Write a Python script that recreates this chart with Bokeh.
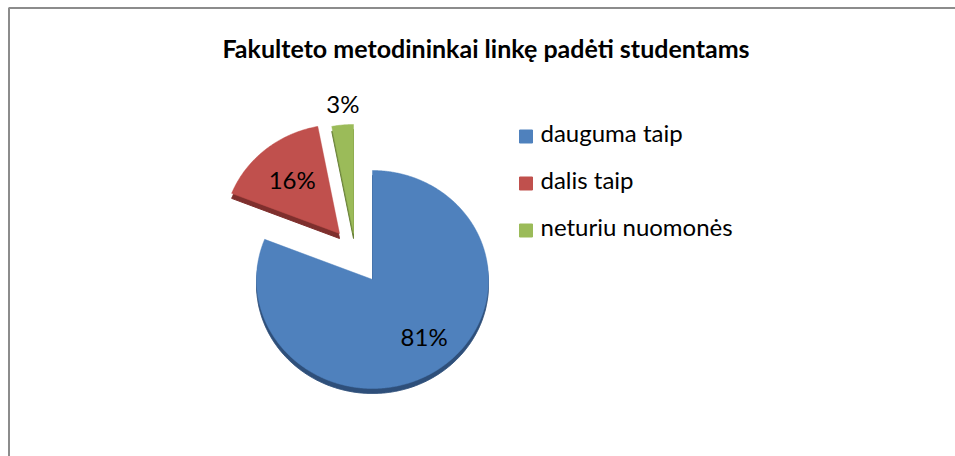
import math
from bokeh.plotting import figure
from bokeh.models import ColumnDataSource
from bokeh.core.properties import value
from bokeh.embed import file_html
from bokeh.resources import INLINE

# ---- data ----
title_text = "Fakulteto metodininkai linkę padėti studentams"
categories = ["dauguma taip", "dalis taip", "neturiu nuomonės"]
percents = [81, 16, 3]

# ---- style ----
face_colors = ["#4F81BD", "#C0504D", "#9BBB59"]
side_colors = ["#2E4F7A", "#7E2F2D", "#6A8239"]
explode_px = [(0, 0), (-33, 46), (-19, 46)]   # screen offsets (x right, y up)
label_frac = [0.69, 0.64, 1.20]
label_rot = [6, 0, -1]                         # degrees
FONT = "Lato"

W, H = 955, 456
p = figure(width=W, height=H, x_range=(0, W), y_range=(0, H),
           output_backend="svg", toolbar_location=None, min_border=0,
           outline_line_color=None, background_fill_color="white",
           border_fill_color="white")
p.axis.visible = False
p.grid.visible = False

# chart frame (left + top edges)
p.segment(x0=[8.5, 8], y0=[0, H - 7.5], x1=[8.5, W], y1=[H - 7.5, H - 7.5],
          line_color="#8C8C8C", line_width=2)

# title
p.text(x=[485.5], y=[H - 47], text=[title_text], text_font=value(FONT),
       text_font_style="bold", text_font_size="25px", text_align="center",
       text_baseline="alphabetic", text_color="black")

# pie geometry (slightly elliptical, 3D look)
cx, cy, rx, ry = 372, H - 279, 116, 109
depth = 5
total = sum(percents)
cum = 0
fx, fy, sx, sy, lx, ly = [], [], [], [], [], []
for i, v in enumerate(percents):
    a0 = 90 - cum / total * 360
    cum += v
    a1 = 90 - cum / total * 360
    dx, dy = explode_px[i]
    vx, vy = cx + dx, cy + dy
    steps = max(4, int(abs(a0 - a1) * 2))
    ts = [math.radians(a0 + (a1 - a0) * k / steps) for k in range(steps + 1)]
    px = [vx] + [vx + rx * math.cos(t) for t in ts]
    py = [vy] + [vy + ry * math.sin(t) for t in ts]
    fx.append(px)
    fy.append(py)
    sx.append(px)
    sy.append([y - depth for y in py])
    mid = math.radians((a0 + a1) / 2 + label_rot[i])
    lx.append(vx + label_frac[i] * rx * math.cos(mid))
    ly.append(vy + label_frac[i] * ry * math.sin(mid))

src = ColumnDataSource(dict(fx=fx, fy=fy, sx=sx, sy=sy,
                            face=face_colors, side=side_colors))
# 3D side (shifted darker copy)
p.patches(xs="sx", ys="sy", fill_color="side", line_color="side", source=src)
# top face
p.patches(xs="fx", ys="fy", fill_color="face", line_color="face", line_width=0.5, source=src)

lab_src = ColumnDataSource(dict(lx=lx, ly=ly, lab=[f"{v}%" for v in percents]))
p.text(x="lx", y="ly", text="lab", source=lab_src, text_font=value(FONT),
       text_font_size="24px", text_align="center", text_baseline="middle",
       text_color="black")

# legend
leg_x, leg_y0, leg_dy = 525.5, H - 136, 47
n = len(categories)
lsrc = ColumnDataSource(dict(
    x=[leg_x] * n,
    y=[leg_y0 - i * leg_dy for i in range(n)],
    ty=[leg_y0 + 4 - i * leg_dy for i in range(n)],
    tx=[leg_x + 14.5] * n,
    c=face_colors, t=categories))
p.scatter(x="x", y="y", marker="square", size=13, fill_color="c", line_color="c", source=lsrc)
p.text(x="tx", y="ty", text="t", source=lsrc, text_font=value(FONT),
       text_font_size="24px", text_align="left", text_baseline="alphabetic",
       text_color="black")

open("out.html", "w").write(file_html(p, INLINE))
